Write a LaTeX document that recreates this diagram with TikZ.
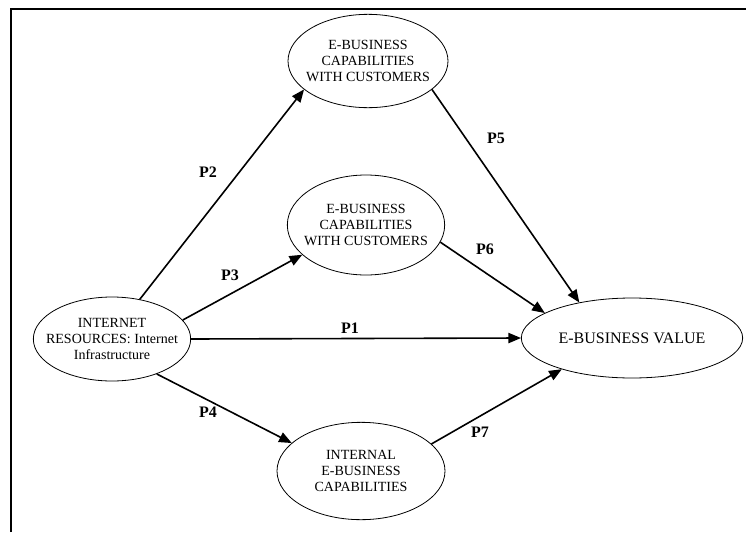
\documentclass[tikz,border=0pt]{standalone}
\usepackage{fontspec}
\setmainfont{Liberation Serif}
\usetikzlibrary{shapes}
\usetikzlibrary{arrows}
\tikzstyle{bubble} = [ellipse,fill=white,draw=black,line width=0.6pt,
inner xsep=-40pt, inner ysep=-20pt, align=center,
font=\fontsize{10.5}{12}\selectfont]
\tikzstyle{plabel} = [inner sep=0pt, font=\fontsize{12}{12}\selectfont\bfseries]
\tikzstyle{link} = [->, line width=1.2pt]
\tikzset{>={triangle 45}}

\begin{document}
\begin{tikzpicture}[x=0.75pt, y=-0.75pt]
  \useasboundingbox (0,0) rectangle (746,532);
  \draw[line width=1.5pt] (11,532) -- (11,9) -- (746,9);

  \node[bubble, minimum width=118pt, minimum height=63pt] (res) at (112,339)
    {INTERNET\\RESOURCES: Internet\\Infrastructure};
  \node[bubble, minimum width=120pt, minimum height=70pt] (cust) at (368,61)
    {E-BUSINESS\\CAPABILITIES\\WITH CUSTOMERS};
  \node[bubble, minimum width=118pt, minimum height=75pt] (custmid) at (366,225)
    {E-BUSINESS\\CAPABILITIES\\WITH CUSTOMERS};
  \node[bubble, minimum width=126pt, minimum height=73pt] (internal) at (361,471)
    {INTERNAL\\E-BUSINESS\\CAPABILITIES};
  \node[bubble, minimum width=166pt, minimum height=60pt,
    font=\fontsize{12}{14}\selectfont] (value) at (632,338) {E-BUSINESS VALUE};

  % paths
  \draw[link] (res.55) -- (cust.204);
  \draw[link] (res.15) -- (custmid.205);
  \draw[link] (res.east) -- (value.west);
  \draw[link] (res.-38) -- (internal.158);
  \draw[link] (cust.-24) -- (value.146);
  \draw[link] (custmid.-13) -- (value.164);
  \draw[link] (internal.21) -- (value.204);

  \node[plabel] (p1) at (350,328) {P1};
  \node[plabel] (p2) at (208,172) {P2};
  \node[plabel] (p3) at (230,275) {P3};
  \node[plabel] (p4) at (208,412) {P4};
  \node[plabel] (p5) at (496,138) {P5};
  \node[plabel] (p6) at (485,249) {P6};
  \node[plabel] (p7) at (480,432) {P7};
\end{tikzpicture}
\end{document}
